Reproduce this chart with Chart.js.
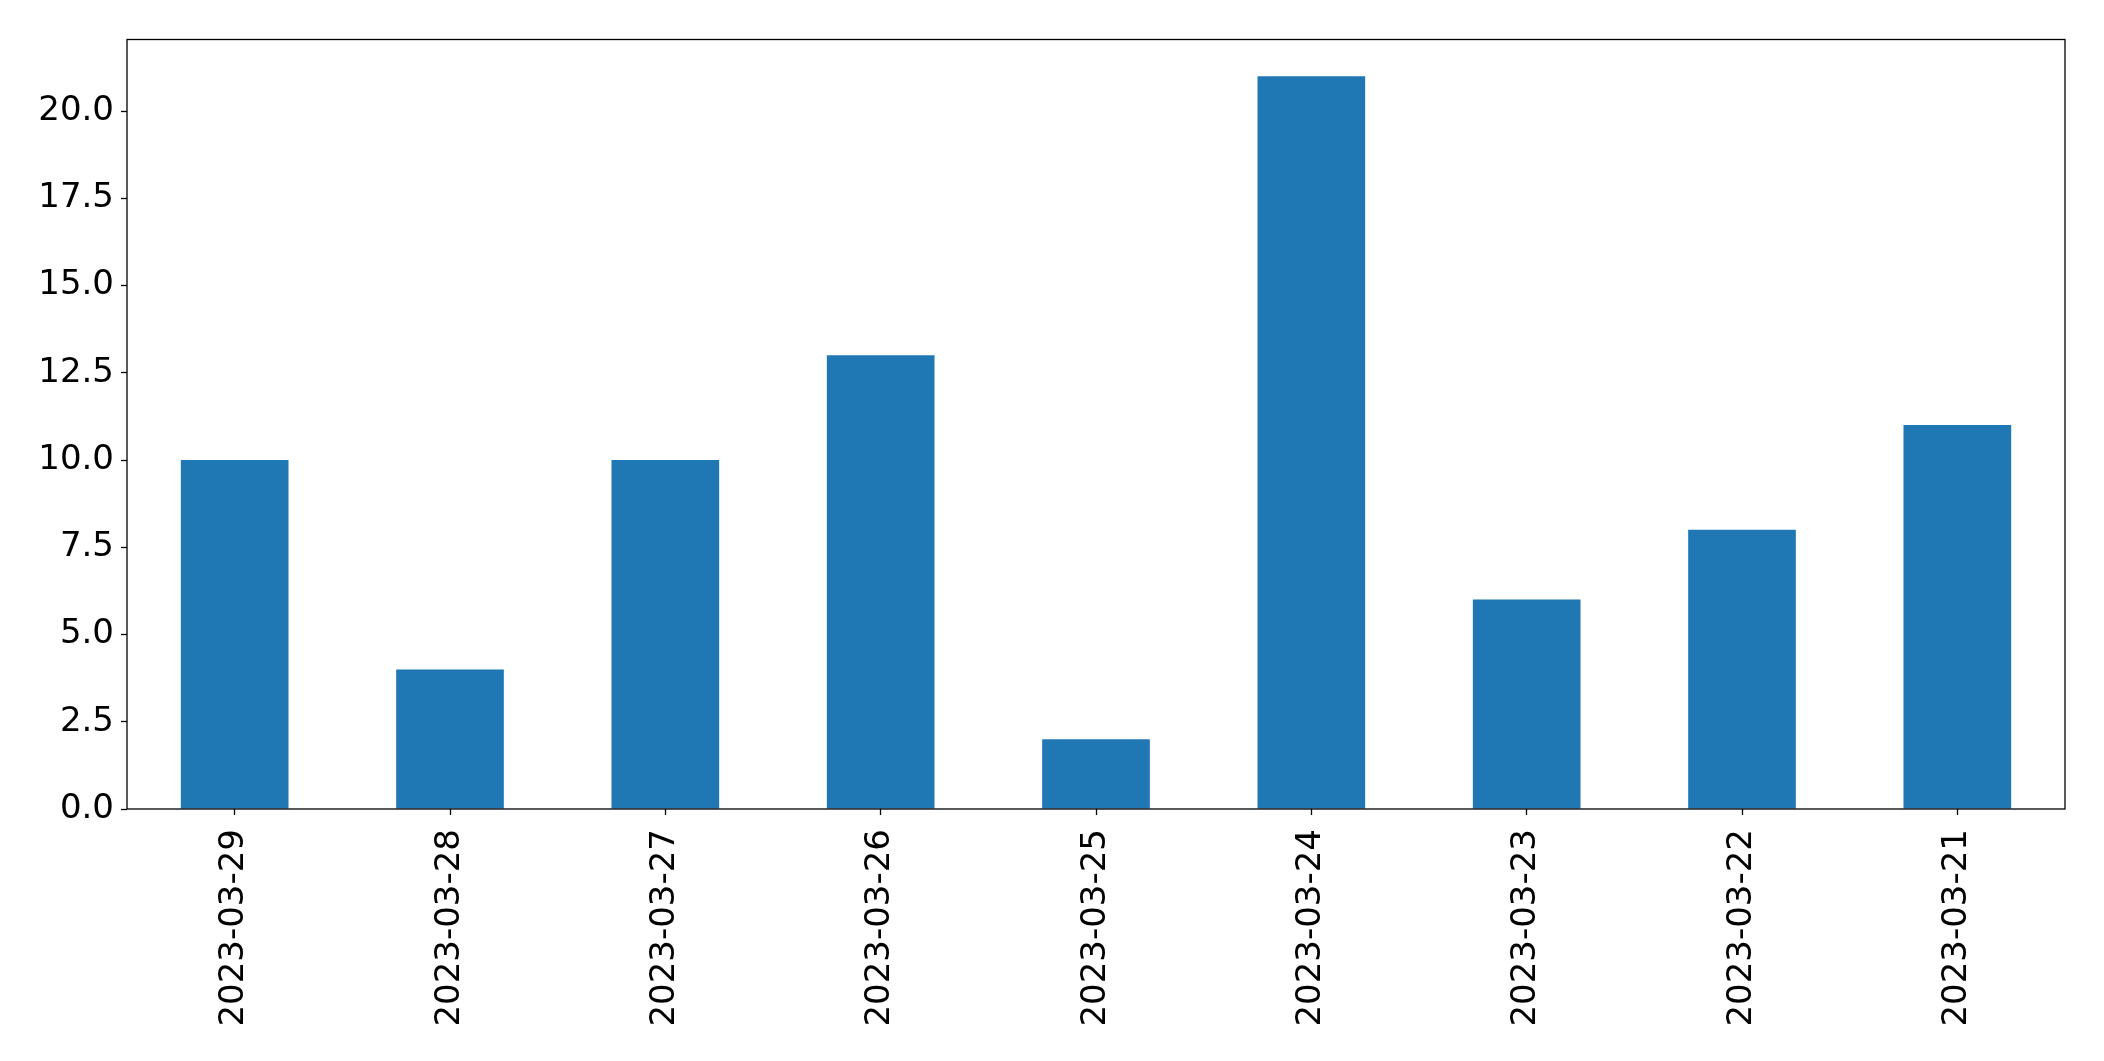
<!DOCTYPE html>
<html>
<head>
<meta charset="utf-8">
<script src="https://cdn.jsdelivr.net/npm/chart.js@4.4.0/dist/chart.umd.min.js"></script>
<style>
    html, body { margin: 0; padding: 0; background: #fff; }
    #wrap { width: 2104px; height: 1061px; }
</style>
</head>
<body>
<div id="wrap"><canvas id="countBarChart" width="2104" height="1061"></canvas></div>
<script>
const dates = ['2023-03-29', '2023-03-28', '2023-03-27', '2023-03-26', '2023-03-25', '2023-03-24', '2023-03-23', '2023-03-22', '2023-03-21'];
const counts = [10, 4, 10, 13, 2, 21, 6, 8, 11];
const yMax = 22.05;
const yStep = 2.5;

// matplotlib-style frame round the plot area
const frameBox = {
    id: 'frameBox',
    afterDraw(chart){
        let a = chart.chartArea;
        let ctx = chart.ctx;
        ctx.save();
        ctx.strokeStyle = '#000';
        ctx.lineWidth = 1.3;
        ctx.strokeRect(a.left, a.top, a.right - a.left, a.bottom - a.top);
        ctx.restore();
    }
};

let ctx = document.getElementById('countBarChart').getContext('2d');
let countBarChart = new Chart(ctx, {
    type: 'bar',
    data: {
        labels: dates,
        datasets: [{
            label: false,
            data: counts,
            backgroundColor: '#1f77b4',
            borderWidth: 0,
            categoryPercentage: 0.5,
            barPercentage: 1.0
        }]
    },
    options: {
        responsive: false,
        animation: false,
        devicePixelRatio: 1,
        layout: {
            padding: { top: 39.5, right: 39, left: 0, bottom: 0 }
        },
        plugins: {
            legend: { display: false },
            tooltip: { enabled: false }
        },
        scales: {
            x: {
                grid: {
                    offset: false,
                    drawOnChartArea: false,
                    drawTicks: true,
                    tickLength: 6,
                    tickWidth: 1.3,
                    tickColor: '#000'
                },
                border: { display: false },
                ticks: {
                    color: '#000',
                    minRotation: 90,
                    maxRotation: 90,
                    autoSkip: false,
                    padding: 14,
                    font: { family: 'DejaVu Sans', size: 34 }
                },
                afterFit(scale) {
                    scale.height = 1061 - 809;
                }
            },
            y: {
                min: 0,
                max: yMax,
                grid: {
                    drawOnChartArea: false,
                    drawTicks: true,
                    tickLength: 6,
                    tickWidth: 1.3,
                    tickColor: '#000'
                },
                border: { display: false },
                ticks: {
                    stepSize: yStep,
                    color: '#000',
                    padding: 7,
                    font: { family: 'DejaVu Sans', size: 34 },
                    callback: function(v){ return v.toFixed(1); }
                },
                afterBuildTicks(scale) {
                    scale.ticks = scale.ticks.filter(t => Math.abs(t.value / yStep - Math.round(t.value / yStep)) < 1e-9);
                },
                afterFit(scale) {
                    scale.width = 127;
                }
            }
        }
    },
    plugins: [frameBox]
});
</script>
</body>
</html>
